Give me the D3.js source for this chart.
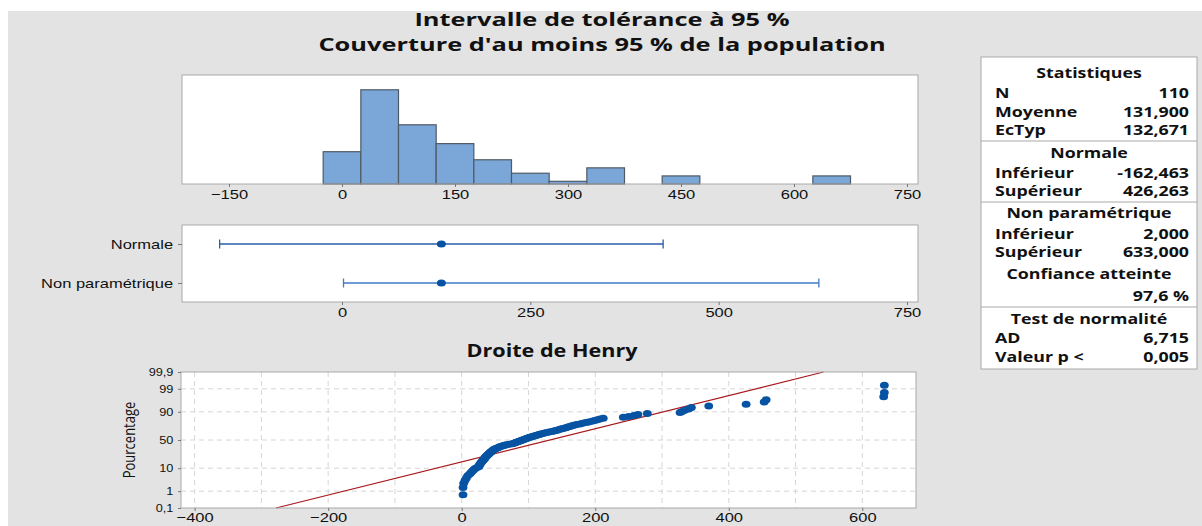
<!DOCTYPE html>
<html lang="fr">
<head>
<meta charset="utf-8"/>
<title>Intervalle de tolérance à 95 %</title>
<style>
  html, body { margin: 0; padding: 0; background: #fff; }
  svg { display: block; font-family: "Open Sans", "Noto Sans", sans-serif; }
</style>
</head>
<body>
<div id="chart"></div>
<script src="https://d3js.org/d3.v7.min.js"></script>
<script>
// sample, sorted (n = 110)
const sample = [
  2, 2, 3, 5, 7, 9, 12, 14, 16, 18, 20, 23,
  26, 26, 27, 28, 29, 30, 31, 32, 33, 34, 35, 35, 36, 37, 38, 39, 40, 41,
  42, 43, 44, 45, 46, 47, 48, 50, 51, 53, 55, 57, 59, 62, 64, 67, 71,
  76, 78, 80, 82, 84, 86, 88, 90, 92, 94, 96, 98, 100, 102, 105, 107, 110, 112, 115, 117, 120, 123,
  127, 131, 135, 138, 141, 144, 147, 150, 153, 156, 159, 162, 165, 168, 172,
  177, 181, 186, 190, 195, 199, 203, 207, 212,
  242, 250, 258, 264, 278,
  327, 330, 334, 340, 344, 370,
  426, 453, 456,
  632, 633, 633
];

const binEdges = d3.range(-25, 676, 50);
const histTicks = [-150, 0, 150, 300, 450, 600, 750];

const intervalNames = ["Normale", "Non paramétrique"];
const intervalLow = [-162.463, 2.0];
const intervalHigh = [426.263, 633.0];
const intervalMid = [131.9, 131.9];
const intervalTicks = [0, 250, 500, 750];

const fitMean = 131.9;
const fitSd = 132.671;
const probTicks = [0.1, 1, 10, 50, 90, 99, 99.9];
const probXTicks = [-400, -200, 0, 200, 400, 600];

const statKinds = ["head", "row", "row", "row", "sep", "head", "row", "row", "sep", "head", "row", "row", "head", "row", "sep", "head", "row", "row"];
const statLabels = ["Statistiques", "N", "Moyenne", "EcTyp", "", "Normale", "Inférieur", "Supérieur", "", "Non paramétrique", "Inférieur", "Supérieur", "Confiance atteinte", "", "", "Test de normalité", "AD", "Valeur p <"];
const statValues = ["", "110", "131,900", "132,671", "", "", "-162,463", "426,263", "", "", "2,000", "633,000", "", "97,6 %", "", "", "6,715", "0,005"];
const statY = [73, 93, 112, 130, 141, 153, 173, 191, 202, 213, 234, 252, 274, 296, 307, 319, 338, 357];

const width = 1202, height = 526;
const S = 1.27; // the reference is stretched sideways
const frameStroke = "#a9a9a9";

const svg = d3.select("#chart").append("svg")
    .attr("width", width)
    .attr("height", height);

svg.append("rect").attr("x", 8).attr("y", 11)
    .attr("width", width - 8).attr("height", height - 11)
    .attr("fill", "#e3e3e3");

function txt(sel, x, y, s, o = {}) {
  return sel.append("text")
      .attr("transform", `translate(${x},${y}) scale(${o.sx || S},1)` + (o.rotate ? ` rotate(${o.rotate})` : ""))
      .attr("text-anchor", o.anchor || "start")
      .attr("dominant-baseline", "central")
      .style("font-size", (o.size || 13) + "px")
      .style("font-weight", o.weight || 400)
      .attr("fill", o.fill || "#111")
      .text(s);
}

function styleAxis(g, size) {
  g.select(".domain").remove();
  g.selectAll(".tick line").attr("stroke", "#777");
  g.selectAll(".tick text")
      .attr("transform", `scale(${S},1)`)
      .attr("fill", "#111")
      .style("font-size", size + "px");
}

function frame(x0, y0, x1, y1) {
  return svg.append("rect").attr("x", x0).attr("y", y0)
      .attr("width", x1 - x0).attr("height", y1 - y0);
}

const comma = d => String(d).replace(".", ",");

// titles
txt(svg, 602, 19, "Intervalle de tolérance à 95 %", {anchor: "middle", size: 18, weight: 700, sx: 1.41});
txt(svg, 602, 44, "Couverture d'au moins 95 % de la population", {anchor: "middle", size: 18, weight: 700, sx: 1.41});

// histogram
const hist = {x0: 182, x1: 918, y0: 75, y1: 184};
const x = d3.scaleLinear().domain([-212.4, 764.6]).range([hist.x0, hist.x1]);
const yh = d3.scaleLinear().domain([0, 40.5]).range([hist.y1, hist.y0]);
const bins = d3.bin().domain([binEdges[0], binEdges[binEdges.length - 1]])
    .thresholds(binEdges.slice(1, -1))(sample);

frame(hist.x0, hist.y0, hist.x1, hist.y1).attr("fill", "#fff");
svg.append("g").selectAll("rect")
  .data(bins.filter(b => b.length > 0))
  .join("rect")
    .attr("x", b => x(b.x0))
    .attr("width", b => x(b.x1) - x(b.x0))
    .attr("y", b => yh(b.length))
    .attr("height", b => yh(0) - yh(b.length))
    .attr("fill", "#7ba6d8")
    .attr("stroke", "#4f5a66")
    .attr("stroke-width", 1.2);
frame(hist.x0, hist.y0, hist.x1, hist.y1).attr("fill", "none").attr("stroke", frameStroke);
svg.append("g").attr("transform", `translate(0,${hist.y1})`)
    .call(d3.axisBottom(x).tickValues(histTicks).tickSize(3).tickPadding(3))
    .call(g => styleAxis(g, 13));

// tolerance intervals
const intv = {y0: 225, y1: 302};
const yi = d3.scalePoint().domain(intervalNames).range([244, 283]);
frame(hist.x0, intv.y0, hist.x1, intv.y1).attr("fill", "#fff").attr("stroke", frameStroke);
const rows = svg.append("g").selectAll("g")
  .data(intervalNames)
  .join("g")
    .attr("transform", d => `translate(0,${yi(d)})`);
const rowColor = ["#2a5ea6", "#3d7dc3"];
rows.append("line")
    .attr("x1", (d, i) => x(intervalLow[i])).attr("x2", (d, i) => x(intervalHigh[i]))
    .attr("stroke", (d, i) => rowColor[i]).attr("stroke-width", 1.3);
rows.selectAll(".cap")
  .data((d, i) => [intervalLow[i], intervalHigh[i]].map(v => ({v, i})))
  .join("line")
    .attr("class", "cap")
    .attr("x1", c => x(c.v)).attr("x2", c => x(c.v))
    .attr("y1", -4.5).attr("y2", 4.5)
    .attr("stroke", c => rowColor[c.i]).attr("stroke-width", 1.3);
rows.append("ellipse")
    .attr("cx", (d, i) => x(intervalMid[i]))
    .attr("rx", 4.5).attr("ry", 3.5)
    .attr("fill", "#0753a3");
svg.append("g").attr("transform", `translate(${hist.x0},0)`)
    .call(d3.axisLeft(yi).tickSize(4).tickPadding(3))
    .call(g => styleAxis(g, 13));
svg.append("g").attr("transform", `translate(0,${intv.y1})`)
    .call(d3.axisBottom(x).tickValues(intervalTicks).tickSize(3).tickPadding(3))
    .call(g => styleAxis(g, 13));

// Henry plot
function probit(p) {
  // Acklam's inverse normal approximation
  const a = [-39.6968302866538, 220.946098424521, -275.928510446969, 138.357751867269, -30.6647980661472, 2.50662827745924];
  const b = [-54.4760987982241, 161.585836858041, -155.698979859887, 66.8013118877197, -13.2806815528857];
  const c = [-0.00778489400243029, -0.322396458041136, -2.40075827716184, -2.54973253934373, 4.37466414146497, 2.93816398269878];
  const dd = [0.00778469570904146, 0.32246712907004, 2.445134137143, 3.75440866190742];
  const pl = 0.02425;
  let q, r;
  if (p < pl) {
    q = Math.sqrt(-2 * Math.log(p));
    return (((((c[0] * q + c[1]) * q + c[2]) * q + c[3]) * q + c[4]) * q + c[5]) / ((((dd[0] * q + dd[1]) * q + dd[2]) * q + dd[3]) * q + 1);
  }
  if (p > 1 - pl) {
    q = Math.sqrt(-2 * Math.log(1 - p));
    return -(((((c[0] * q + c[1]) * q + c[2]) * q + c[3]) * q + c[4]) * q + c[5]) / ((((dd[0] * q + dd[1]) * q + dd[2]) * q + dd[3]) * q + 1);
  }
  q = p - 0.5; r = q * q;
  return (((((a[0] * r + a[1]) * r + a[2]) * r + a[3]) * r + a[4]) * r + a[5]) * q / (((((b[0] * r + b[1]) * r + b[2]) * r + b[3]) * r + b[4]) * r + 1);
}

const prob = {x0: 181, x1: 916, y0: 372, y1: 508};
const xp = d3.scaleLinear().domain([-420.4, 680.4]).range([prob.x0, prob.x1]);
const zMax = probit(0.999);
const yp = d3.scaleLinear().domain([-zMax, zMax]).range([prob.y1, prob.y0]);

txt(svg, 552, 350, "Droite de Henry", {anchor: "middle", size: 17, weight: 700});
frame(prob.x0, prob.y0, prob.x1, prob.y1).attr("fill", "#fff");

const grid = svg.append("g").attr("stroke", "#d6d6d6").attr("stroke-dasharray", "5,4");
grid.selectAll(".gv").data(d3.range(-400, 601, 100)).join("line")
    .attr("x1", d => xp(d)).attr("x2", d => xp(d))
    .attr("y1", prob.y0).attr("y2", prob.y1);
grid.selectAll(".gh").data(probTicks.slice(1, -1)).join("line")
    .attr("x1", prob.x0).attr("x2", prob.x1)
    .attr("y1", d => yp(probit(d / 100))).attr("y2", d => yp(probit(d / 100)));

const fitEnds = [0.001, 0.999].map(p => [xp(fitMean + probit(p) * fitSd), yp(probit(p))]);
svg.append("path")
    .attr("d", d3.line()(fitEnds))
    .attr("stroke", "#a8181c").attr("stroke-width", 1.2).attr("fill", "none");

const n = sample.length;
svg.append("g").selectAll("ellipse")
  .data(sample)
  .join("ellipse")
    .attr("cx", d => xp(d))
    .attr("cy", (d, i) => yp(probit((i + 1 - 0.3) / (n + 0.4))))
    .attr("rx", 4.4).attr("ry", 3.5)
    .attr("fill", "#0753a3");

frame(prob.x0, prob.y0, prob.x1, prob.y1).attr("fill", "none").attr("stroke", frameStroke);
svg.append("g").attr("transform", `translate(${prob.x0},0)`)
    .call(d3.axisLeft(yp).tickValues(probTicks.map(p => probit(p / 100)))
      .tickFormat((d, i) => comma(probTicks[i])).tickSize(3).tickPadding(3))
    .call(g => styleAxis(g, 10));
svg.append("g").attr("transform", `translate(0,${prob.y1})`)
    .call(d3.axisBottom(xp).tickValues(probXTicks).tickSize(3).tickPadding(2))
    .call(g => styleAxis(g, 13));
txt(svg, 128, 440, "Pourcentage", {anchor: "middle", size: 13, rotate: -90});

// statistics box
const box = {x0: 981, x1: 1197, y0: 57, y1: 369};
frame(box.x0, box.y0, box.x1, box.y1).attr("fill", "#fff").attr("stroke", frameStroke);
const tb = svg.append("g");
statKinds.forEach((k, i) => {
  const y = statY[i];
  if (k === "sep") {
    tb.append("line").attr("x1", box.x0).attr("x2", box.x1)
        .attr("y1", y).attr("y2", y).attr("stroke", frameStroke);
  } else if (k === "head") {
    txt(tb, (box.x0 + box.x1) / 2, y, statLabels[i], {anchor: "middle", size: 14, weight: 700});
  } else {
    if (statLabels[i]) txt(tb, 995, y, statLabels[i], {size: 14, weight: 700});
    txt(tb, 1189, y, statValues[i], {anchor: "end", size: 14, weight: 700});
  }
});
</script>
</body>
</html>
